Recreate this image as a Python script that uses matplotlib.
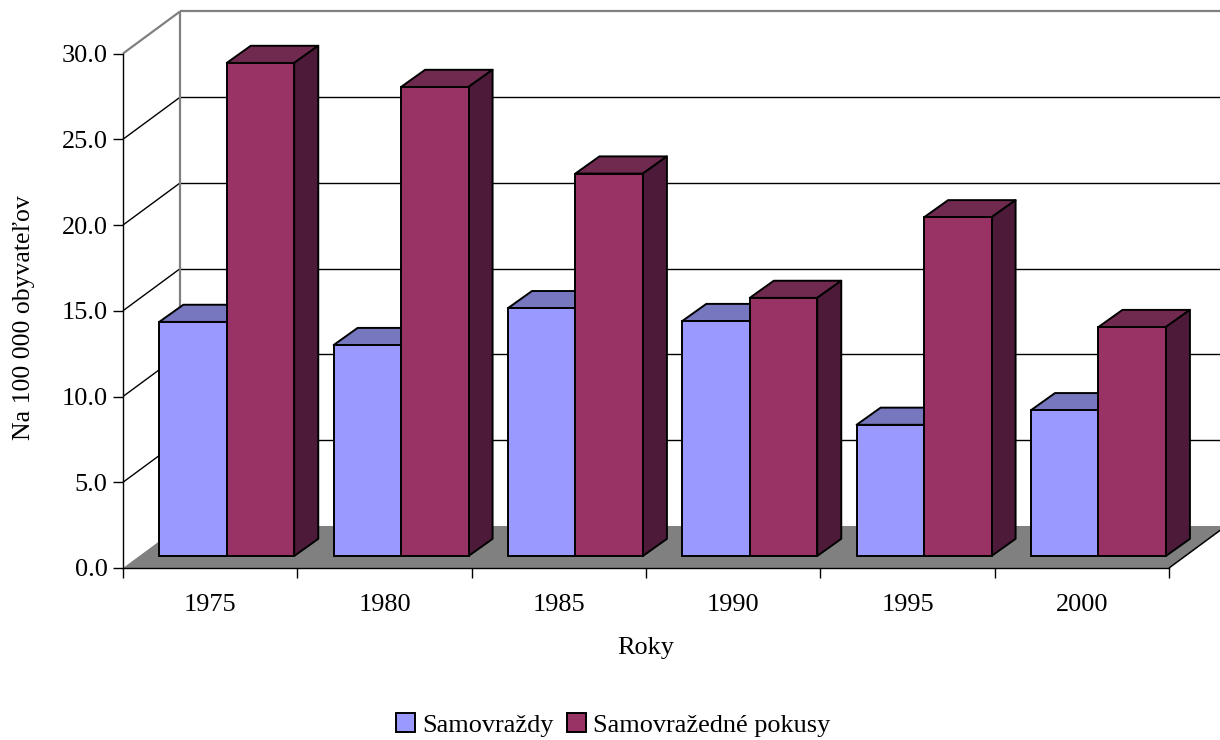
import matplotlib
matplotlib.use("Agg")
from matplotlib import pyplot as plt
from matplotlib.patches import Polygon, Patch

years = ['1975', '1980', '1985', '1990', '1995', '2000']
samovrazdy = [13.65, 12.3, 14.45, 13.7, 7.65, 8.5]
pokusy = [28.75, 27.35, 22.3, 15.05, 19.75, 13.35]
y_ticks = [0, 5, 10, 15, 20, 25, 30]
y_labels = ['0.0', '5.0', '10.0', '15.0', '20.0', '25.0', '30.0']

W = 1220
H = 740
# oblique projection, in data units
WALL_DX = 0.327
WALL_DY = 2.45
BAR_DX = 0.138
BAR_DY = 1.0
BAR_X0 = 0.208
BAR_W = 0.387
BAR_BASE = 0.7

plt.rcParams['font.family'] = ['Liberation Serif', 'DejaVu Serif']
plt.rcParams['font.size'] = 18.9

fig = plt.figure(figsize=(W / 100, H / 100), dpi=100)
left, right, top, bottom = 123, 1169, 53.5, 568
ax = fig.add_axes([left / W, 1 - bottom / H, (right - left) / W, (bottom - top) / H])
ax.set_xlim(0, 6)
ax.set_ylim(0, 30)
ax.patch.set_alpha(0)


def poly(points, **kw):
    ax.add_patch(Polygon(points, closed=True, clip_on=False, **kw))


def wall_line(xs, ys, color, lw=1.1, z=1):
    ax.plot(xs, ys, color=color, lw=lw, clip_on=False, zorder=z, solid_capstyle='butt')


# floor
poly([(0, 0), (6, 0), (6 + WALL_DX, WALL_DY), (WALL_DX, WALL_DY)], fc='#808080', ec='none', zorder=1)
wall_line([6, 6 + WALL_DX], [0, WALL_DY], 'black', z=2)

# walls and grid
for t in y_ticks[1:]:
    c = '#808080' if t == 30 else 'black'
    lw = 1.6 if t == 30 else 1.0
    wall_line([0, WALL_DX], [t, t + WALL_DY], c, lw=lw)
    wall_line([WALL_DX, 6 + WALL_DX], [t + WALL_DY, t + WALL_DY], c, lw=lw)
wall_line([WALL_DX, WALL_DX], [WALL_DY, 30 + WALL_DY], '#808080', lw=1.6, z=2)


def draw_bar(x, v, front, top_c, side_c, z):
    y = BAR_BASE + v
    ec = dict(ec='black', lw=1.4, joinstyle='round', zorder=z)
    poly([(x, y), (x + BAR_W, y), (x + BAR_W + BAR_DX, y + BAR_DY), (x + BAR_DX, y + BAR_DY)], fc=top_c, **ec)
    poly([(x + BAR_W, BAR_BASE), (x + BAR_W + BAR_DX, BAR_BASE + BAR_DY),
          (x + BAR_W + BAR_DX, y + BAR_DY), (x + BAR_W, y)], fc=side_c, **ec)
    ax.bar(x, v, width=BAR_W, bottom=BAR_BASE, align='edge', color=front, edgecolor='black',
           linewidth=1.4, zorder=z)


for i in range(len(years)):
    x = i + BAR_X0
    draw_bar(x, samovrazdy[i], '#9999FF', '#7777BF', '#4D4D80', 3 + i)
    draw_bar(x + BAR_W, pokusy[i], '#993366', '#702A50', '#4D1B39', 3 + i + 0.5)

for s in ['top', 'right']:
    ax.spines[s].set_visible(False)
for s in ['left', 'bottom']:
    ax.spines[s].set_linewidth(1.0)
    ax.spines[s].set_zorder(2)

ax.set_yticks(y_ticks)
ax.set_yticklabels(y_labels)
ax.set_xticks(range(7))
ax.set_xticklabels([])
ax.set_xticks([i + 0.5 for i in range(6)], minor=True)
ax.set_xticklabels(years, minor=True)
ax.tick_params(axis='y', which='major', length=7, width=1.0, pad=4)
ax.tick_params(axis='x', which='major', length=7, width=1.0, pad=8)
ax.tick_params(axis='x', which='minor', length=0, pad=19)

fig.text(646 / W, 1 - 648 / H, 'Roky', ha='center', va='center')
fig.text(24 / W, 1 - 318 / H, "Na 100 000 obyvateľov", ha='center', va='center', rotation=90, fontsize=18.5)

handles = [Patch(fc='#9999FF', ec='black', lw=1.4), Patch(fc='#993366', ec='black', lw=1.4)]
fig.legend(handles, ['Samovraždy', 'Samovražedné pokusy'], ncol=2, frameon=False,
           loc='center', bbox_to_anchor=(613 / W, 1 - 725 / H), handlelength=0.72, handleheight=0.72,
           handletextpad=0.27, columnspacing=0.5, borderpad=0)

fig.savefig('out.png', dpi=100)
